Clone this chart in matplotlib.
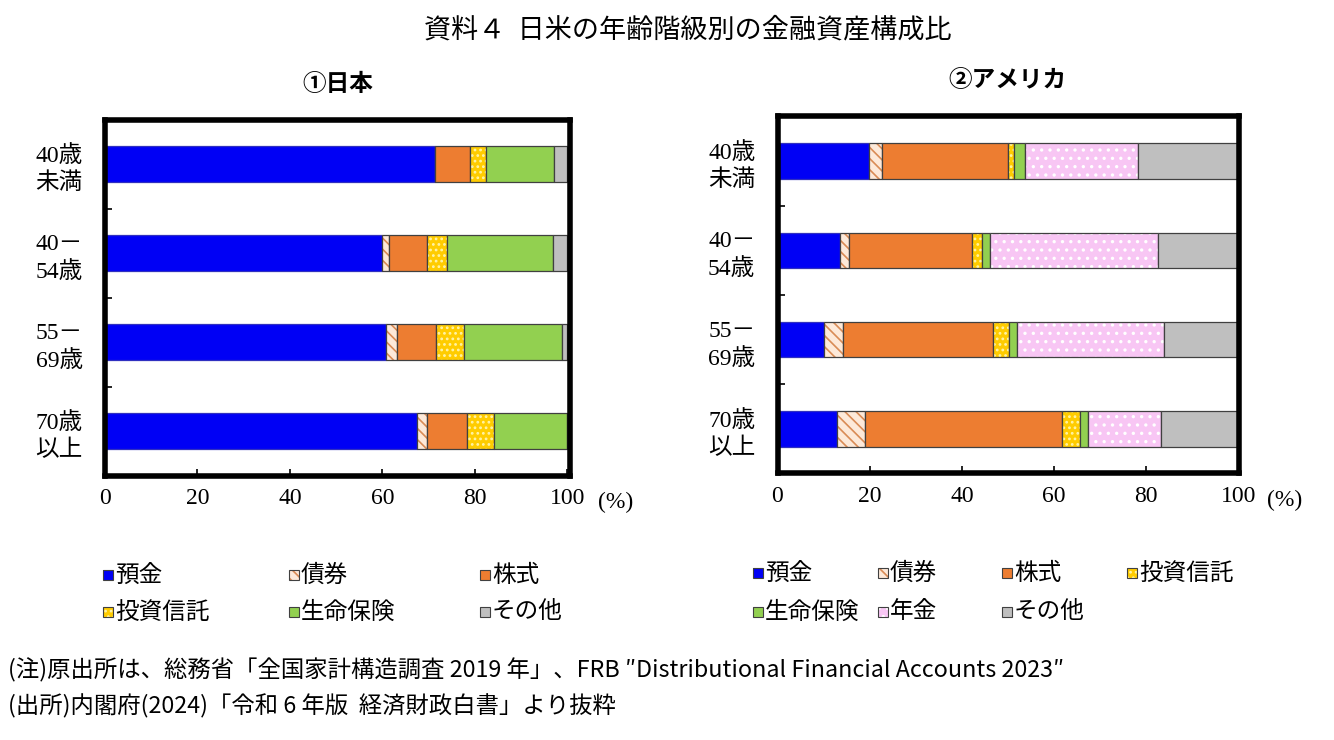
import numpy as np
import matplotlib
matplotlib.use('Agg')
import matplotlib.pyplot as plt
from matplotlib.patches import Rectangle

plt.rcParams['font.family'] = ['Noto Sans CJK JP', 'DejaVu Sans']
plt.rcParams['hatch.linewidth'] = 1.2

# --- data (%) ---
ages = ["40歳\n未満", "40－\n54歳", "55－\n69歳", "70歳\n以上"]

jp_names = ["預金", "債券", "株式", "投資信託", "生命保険", "その他"]
jp_deposit = [71.4, 60.0, 60.7, 67.4]
jp_bond = [0.0, 1.5, 2.5, 2.3]
jp_stock = [7.5, 8.1, 8.5, 8.7]
jp_fund = [3.5, 4.4, 6.0, 5.8]
jp_life = [14.8, 23.0, 21.2, 15.8]
jp_other = [2.8, 3.0, 1.1, 0.0]

us_names = ["預金", "債券", "株式", "投資信託", "生命保険", "年金", "その他"]
us_deposit = [19.8, 13.6, 10.0, 13.0]
us_bond = [2.9, 2.0, 4.2, 6.0]
us_stock = [27.3, 26.5, 32.6, 42.7]
us_fund = [1.2, 2.2, 3.5, 3.9]
us_life = [2.5, 1.9, 1.7, 1.8]
us_pension = [24.4, 36.3, 31.8, 15.7]
us_other = [21.9, 17.5, 16.2, 16.9]

xticks = [0, 20, 40, 60, 80, 100]

# face, hatch, hatch colour
style = {
    "預金": ("#0000F5", None, "#0000F5"),
    "債券": ("#FDE9D9", "\\\\\\", "#D98B55"),
    "株式": ("#ED7D31", None, "#ED7D31"),
    "投資信託": ("#FFCC00", "...", "#FFF3A8"),
    "生命保険": ("#92D050", None, "#92D050"),
    "年金": ("#F8C6F4", "..", "#FFFFFF"),
    "その他": ("#BFBFBF", None, "#BFBFBF"),
}
EDGE = "#404040"
W, H = 1334, 740
serif = ['Liberation Serif', 'Noto Sans CJK JP']

fig = plt.figure(figsize=(W / 100, H / 100), dpi=100)


def stacked(ax, names, series):
    y = np.arange(len(ages))
    left = np.zeros(len(ages))
    for name, vals in zip(names, series):
        vals = np.array(vals)
        face, hatch, hc = style[name]
        ax.barh(y, vals, left=left, height=0.40, color=face, edgecolor=hc,
                hatch=hatch, linewidth=0)
        ax.barh(y, vals, left=left, height=0.40, fill=False,
                edgecolor=(EDGE if name != "預金" else "#3030C0"), linewidth=0.9)
        left += vals
    ax.set_ylim(3.5, -0.5)
    ax.set_yticks(y, ages, family=serif, fontsize=17, linespacing=1.35)
    ax.set_yticks([0.5, 1.5, 2.5], minor=True)
    ax.tick_params(axis='y', which='major', length=0, pad=16)
    ax.tick_params(axis='y', which='minor', direction='in', length=5, width=1.2)
    ax.set_xticks(xticks, [str(t) for t in xticks], family=serif, fontsize=17)
    ax.tick_params(axis='x', direction='in', length=5, width=1.2, pad=9)
    for s in ax.spines.values():
        s.set_linewidth(4)
        s.set_color('black')
    ax.text(1.1, -0.075, "(%)", transform=ax.transAxes, ha='center', va='center',
            family=serif, fontsize=17)


ax1 = fig.add_axes([105 / W, 1 - 475.5 / H, 464.5 / W, 356 / H])
stacked(ax1, jp_names, [jp_deposit, jp_bond, jp_stock, jp_fund, jp_life, jp_other])
ax1.set_xlim(0, 100.5)

ax2 = fig.add_axes([777.5 / W, 1 - 473.5 / H, 461 / W, 357 / H])
stacked(ax2, us_names, [us_deposit, us_bond, us_stock, us_fund, us_life,
                        us_pension, us_other])
ax2.set_xlim(0, 100)

fig.text(688 / W, 1 - 30 / H, "資料４  日米の年齢階級別の金融資産構成比",
         ha='center', va='center', fontsize=19.5)
fig.text(338 / W, 1 - 84 / H, "①日本", ha='center', va='center', fontsize=17,
         fontweight='bold')
fig.text(1007 / W, 1 - 80 / H, "②アメリカ", ha='center', va='center', fontsize=17,
         fontweight='bold')


def legend_item(x, y, name):
    face, hatch, hc = style[name]
    s = 10
    fig.add_artist(Rectangle(((x) / W, 1 - (y + s / 2) / H), s / W, s / H,
                             transform=fig.transFigure, facecolor=face,
                             edgecolor=hc, hatch=hatch, linewidth=0))
    fig.add_artist(Rectangle(((x) / W, 1 - (y + s / 2) / H), s / W, s / H,
                             transform=fig.transFigure, fill=False,
                             edgecolor=EDGE, linewidth=0.8))
    fig.text((x + s + 2) / W, 1 - y / H, name, ha='left', va='center', fontsize=17)


jp_cols = [103, 289, 480]
for i, name in enumerate(jp_names):
    legend_item(jp_cols[i % 3], [575, 612][i // 3], name)

us_cols = [753, 878, 1002, 1127]
for i, name in enumerate(us_names):
    legend_item(us_cols[i % 4], [573, 612][i // 4], name)

fig.text(8 / W, 1 - 670 / H,
         "(注)原出所は、総務省「全国家計構造調査 2019 年」、FRB \u2033Distributional Financial Accounts 2023\u2033",
         ha='left', va='center', fontsize=16.8)
fig.text(8 / W, 1 - 706 / H, "(出所)内閣府(2024)「令和 6 年版  経済財政白書」より抜粋",
         ha='left', va='center', fontsize=16.8)

fig.savefig("out.png", dpi=100)
